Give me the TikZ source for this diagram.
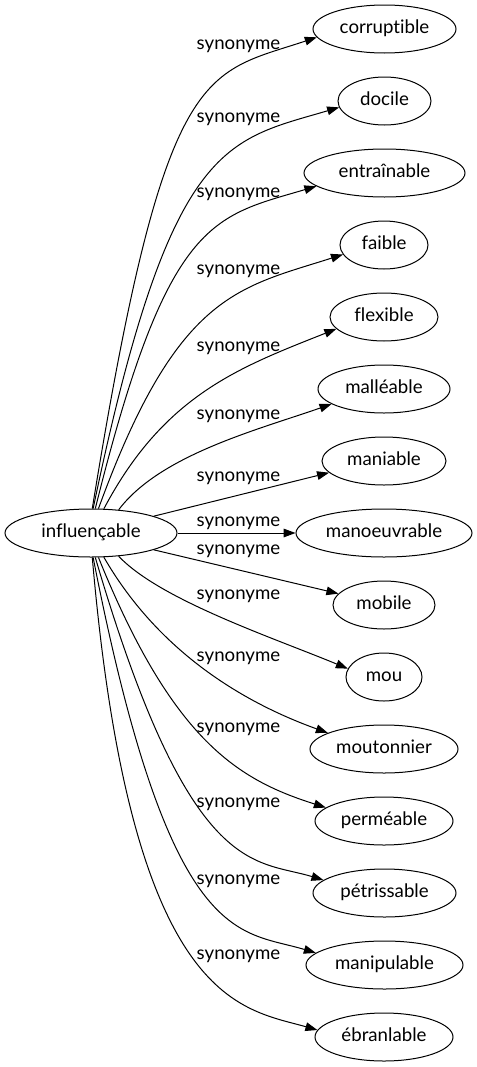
\documentclass[tikz,border=0pt]{standalone}
\usepackage{fontspec}
\setmainfont{Lato}[Ligatures=NoCommon]
\usetikzlibrary{shapes.geometric,arrows.meta}
\begin{document}
\begin{tikzpicture}[x=0.75pt,y=0.75pt,
  every node/.style={font=\fontsize{14pt}{16pt}\selectfont, text height=9.8pt, text depth=2.8pt, inner sep=0pt},
  term/.style={draw, ellipse, line width=0.75pt, minimum height=36pt, minimum width=#1*0.75pt},
  lbl/.style={},
  edge/.style={line width=0.75pt, -{Triangle[length=9pt,width=6.5pt]}}]
\useasboundingbox (0,0) rectangle (477,-1067);
\node[term=172] (src) at (91,-533) {influençable};
\node[term=143] (t1) at (384.5,-29) {corruptible};
\node[term=93] (t2) at (384.5,-101) {docile};
\node[term=161] (t3) at (384.5,-173) {entraînable};
\node[term=88] (t4) at (384,-245) {faible};
\node[term=108] (t5) at (384,-317) {flexible};
\node[term=132] (t6) at (384,-389) {malléable};
\node[term=124] (t7) at (384,-461) {maniable};
\node[term=176] (t8) at (384,-533) {manoeuvrable};
\node[term=102] (t9) at (384,-605) {mobile};
\node[term=76] (t10) at (384,-677) {mou};
\node[term=148] (t11) at (384,-749) {moutonnier};
\node[term=138] (t12) at (384,-821) {perméable};
\node[term=143] (t13) at (384.5,-893) {pétrissable};
\node[term=157] (t14) at (384.5,-965) {manipulable};
\node[term=138] (t15) at (384,-1037) {ébranlable};
\node[lbl] (l1) at (238.5,-45) {synonyme};
\node[lbl] (l2) at (238.5,-118) {synonyme};
\node[lbl] (l3) at (238.5,-193) {synonyme};
\node[lbl] (l4) at (238.5,-270) {synonyme};
\node[lbl] (l5) at (238.5,-347) {synonyme};
\node[lbl] (l6) at (238.5,-415) {synonyme};
\node[lbl] (l7) at (238.5,-477) {synonyme};
\node[lbl] (l8) at (238.5,-522) {synonyme};
\node[lbl] (l9) at (238.5,-550) {synonyme};
\node[lbl] (l10) at (238.5,-595) {synonyme};
\node[lbl] (l11) at (238.5,-657) {synonyme};
\node[lbl] (l12) at (238.5,-728) {synonyme};
\node[lbl] (l13) at (238.5,-803) {synonyme};
\node[lbl] (l14) at (238.5,-880) {synonyme};
\node[lbl] (l15) at (238.5,-955) {synonyme};
\draw[edge] (src.87.6) .. controls (165,-60) and (203,-75) .. (t1.187.6);
\draw[edge] (src.85.2) .. controls (170,-140) and (225,-141) .. (t2.188.6);
\draw[edge] (src.80.5) .. controls (167.5,-218) and (212,-217) .. (t3.191.9);
\draw[edge] (src.73.4) .. controls (177,-293) and (238,-288) .. (t4.193.3);
\draw[edge] (src.62.4) .. controls (164,-395) and (239,-367.5) .. (t5.194);
\draw[edge] (src.40.2) .. controls (160,-455) and (257,-430) .. (t6.196.4);
\draw[edge] (src.15) -- (t7.192.5);
\draw[edge] (src.east) -- (t8.west);
\draw[edge] (src.-15) -- (t9.166.8);
\draw[edge] (src.-40.2) .. controls (160,-600) and (274,-638) .. (t10.167.5);
\draw[edge] (src.-62.4) .. controls (158,-651) and (242,-702) .. (t11.164.3);
\draw[edge] (src.-73.4) .. controls (173,-742) and (239,-780) .. (t12.167.6);
\draw[edge] (src.-80.5) .. controls (190,-880) and (254,-859) .. (t13.168.4);
\draw[edge] (src.-85.2) .. controls (170,-950) and (238.5,-929.6) .. (t14.170.2);
\draw[edge] (src.-87.6) .. controls (131,-1005) and (240,-1008) .. (t15.174);
\end{tikzpicture}
\end{document}
